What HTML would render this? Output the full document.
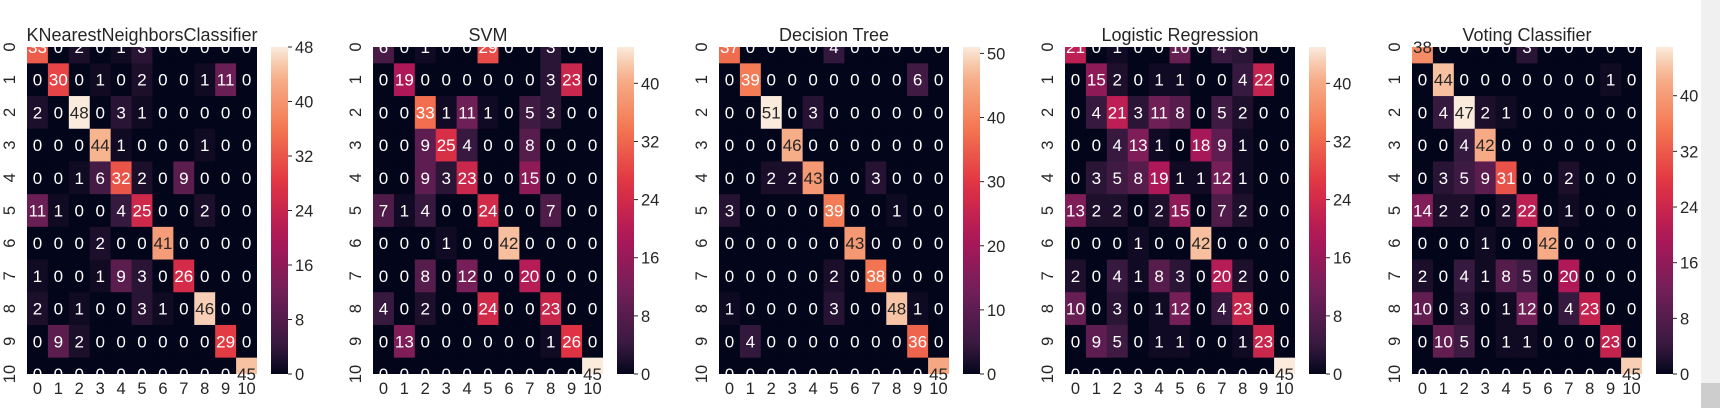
<!DOCTYPE html>
<html><head><meta charset="utf-8">
<style>
html,body{margin:0;padding:0;background:#fff;width:1720px;height:408px;overflow:hidden;}
svg{display:block;font-family:"Liberation Sans",Arial,sans-serif;}
</style></head>
<body>
<svg id="chart" width="1720" height="408"></svg>
<script>
const categories = ["0","1","2","3","4","5","6","7","8","9","10"];
const titles = ["KNearestNeighborsClassifier","SVM","Decision Tree","Logistic Regression","Voting Classifier"];
const vmaxes = [48, 45, 51, 45, 47];
const cbarTicks0 = [0,8,16,24,32,40,48];
const cbarTicks1 = [0,8,16,24,32,40];
const cbarTicks2 = [0,10,20,30,40,50];
const cbarTicks3 = [0,8,16,24,32,40];
const cbarTicks4 = [0,8,16,24,32,40];
const knnMatrix = [
[33,0,2,0,1,3,0,0,0,0,0],
[0,30,0,1,0,2,0,0,1,11,0],
[2,0,48,0,3,1,0,0,0,0,0],
[0,0,0,44,1,0,0,0,1,0,0],
[0,0,1,6,32,2,0,9,0,0,0],
[11,1,0,0,4,25,0,0,2,0,0],
[0,0,0,2,0,0,41,0,0,0,0],
[1,0,0,1,9,3,0,26,0,0,0],
[2,0,1,0,0,3,1,0,46,0,0],
[0,9,2,0,0,0,0,0,0,29,0],
[0,0,0,0,0,0,0,0,0,0,45]];
const svmMatrix = [
[6,0,1,0,0,29,0,0,3,0,0],
[0,19,0,0,0,0,0,0,3,23,0],
[0,0,33,1,11,1,0,5,3,0,0],
[0,0,9,25,4,0,0,8,0,0,0],
[0,0,9,3,23,0,0,15,0,0,0],
[7,1,4,0,0,24,0,0,7,0,0],
[0,0,0,1,0,0,42,0,0,0,0],
[0,0,8,0,12,0,0,20,0,0,0],
[4,0,2,0,0,24,0,0,23,0,0],
[0,13,0,0,0,0,0,0,1,26,0],
[0,0,0,0,0,0,0,0,0,0,45]];
const dtMatrix = [
[37,0,0,0,0,4,0,0,0,0,0],
[0,39,0,0,0,0,0,0,0,6,0],
[0,0,51,0,3,0,0,0,0,0,0],
[0,0,0,46,0,0,0,0,0,0,0],
[0,0,2,2,43,0,0,3,0,0,0],
[3,0,0,0,0,39,0,0,1,0,0],
[0,0,0,0,0,0,43,0,0,0,0],
[0,0,0,0,0,2,0,38,0,0,0],
[1,0,0,0,0,3,0,0,48,1,0],
[0,4,0,0,0,0,0,0,0,36,0],
[0,0,0,0,0,0,0,0,0,0,45]];
const lrMatrix = [
[21,0,1,0,0,10,0,4,3,0,0],
[0,15,2,0,1,1,0,0,4,22,0],
[0,4,21,3,11,8,0,5,2,0,0],
[0,0,4,13,1,0,18,9,1,0,0],
[0,3,5,8,19,1,1,12,1,0,0],
[13,2,2,0,2,15,0,7,2,0,0],
[0,0,0,1,0,0,42,0,0,0,0],
[2,0,4,1,8,3,0,20,2,0,0],
[10,0,3,0,1,12,0,4,23,0,0],
[0,9,5,0,1,1,0,0,1,23,0],
[0,0,0,0,0,0,0,0,0,0,45]];
const votingMatrix = [
[38,0,0,0,0,3,0,0,0,0,0],
[0,44,0,0,0,0,0,0,0,1,0],
[0,4,47,2,1,0,0,0,0,0,0],
[0,0,4,42,0,0,0,0,0,0,0],
[0,3,5,9,31,0,0,2,0,0,0],
[14,2,2,0,2,22,0,1,0,0,0],
[0,0,0,1,0,0,42,0,0,0,0],
[2,0,4,1,8,5,0,20,0,0,0],
[10,0,3,0,1,12,0,4,23,0,0],
[0,10,5,0,1,1,0,0,0,23,0],
[0,0,0,0,0,0,0,0,0,0,45]];

const matrices = [knnMatrix, svmMatrix, dtMatrix, lrMatrix, votingMatrix];
const tickSets = [cbarTicks0, cbarTicks1, cbarTicks2, cbarTicks3, cbarTicks4];

const NS = "http://www.w3.org/2000/svg";
const svg = document.getElementById("chart");
const TOP = 47, BOTTOM = 374, HM_W = 230, CB_W = 17;
const PANEL_X = [27, 373, 719, 1065, 1412];
const n = categories.length;
const rowH = (BOTTOM - TOP) / (n - 1);
const colW = HM_W / n;

const stops = [[0,"#03051a"],[0.083,"#35193e"],[0.25,"#701f57"],[0.417,"#ad1759"],[0.583,"#e13342"],[0.75,"#f37651"],[0.917,"#f6b48f"],[1,"#faebdd"]];
function hex2rgb(h){return [parseInt(h.substr(1,2),16),parseInt(h.substr(3,2),16),parseInt(h.substr(5,2),16)];}
function rocket(t){
  t=Math.max(0,Math.min(1,t));
  for(let i=0;i<stops.length-1;i++){
    if(t<=stops[i+1][0]){
      const a=hex2rgb(stops[i][1]),b=hex2rgb(stops[i+1][1]);
      const f=(t-stops[i][0])/(stops[i+1][0]-stops[i][0]);
      return [0,1,2].map(k=>Math.round(a[k]+(b[k]-a[k])*f));
    }
  }
  return hex2rgb(stops[stops.length-1][1]);
}
function lum(c){
  const l=c.map(v=>{v/=255;return v<=0.03928?v/12.92:Math.pow((v+0.055)/1.055,2.4);});
  return 0.2126*l[0]+0.7152*l[1]+0.0722*l[2];
}
function el(tag,attrs){const e=document.createElementNS(NS,tag);for(const k in attrs)e.setAttribute(k,attrs[k]);return e;}

const defs = el("defs",{});
svg.appendChild(defs);
const grad = el("linearGradient",{id:"rocketGrad",x1:"0",y1:"1",x2:"0",y2:"0"});
for(let i=0;i<=20;i++){const c=rocket(i/20);grad.appendChild(el("stop",{offset:(i/20).toString(),"stop-color":`rgb(${c[0]},${c[1]},${c[2]})`}));}
defs.appendChild(grad);

matrices.forEach((mat,p)=>{
  const x0 = PANEL_X[p], vmax = vmaxes[p];
  const xS = j => x0 + colW*(j+0.5);
  const yS = i => TOP + rowH*i;
  const cS = v => BOTTOM - (v/vmax)*(BOTTOM-TOP);
  const g = el("g",{});
  
  
  svg.appendChild(g);
  const clip = el("clipPath",{id:"clip"+p});
  clip.appendChild(el("rect",{x:x0,y:TOP,width:HM_W,height:BOTTOM-TOP}));
  defs.appendChild(clip);
  const cells = el("g",{"clip-path":`url(#clip${p})`});
  g.appendChild(cells);
  for(let i=0;i<n;i++)for(let j=0;j<n;j++){
    const v=mat[i][j], c=rocket(v/vmax);
    const r=el("rect",{x:(x0+colW*j).toFixed(2),y:(yS(i)-rowH/2).toFixed(2),width:(colW+0.4).toFixed(2),height:(rowH+0.4).toFixed(2),fill:`rgb(${c[0]},${c[1]},${c[2]})`});
    
    
    cells.appendChild(r);
  }
  for(let i=0;i<n;i++)for(let j=0;j<n;j++){
    const v=mat[i][j], c=rocket(v/vmax);
    const dark = (v/vmax > 0.79) || lum(c) > 0.408;
    const t=el("text",{x:xS(j).toFixed(2),y:(yS(i)+6).toFixed(2),"text-anchor":"middle","font-size":"17",fill:dark?"#262626":"#ffffff"});
    t.textContent=v;
    
    
    g.appendChild(t);
  }
  categories.forEach((c,j)=>{
    const t=el("text",{x:xS(j).toFixed(2),y:"394","text-anchor":"middle","font-size":"16.5",fill:"#262626"});
    t.textContent=c;
    
    
    g.appendChild(t);
  });
  categories.forEach((c,i)=>{
    const cx=x0-17, cy=yS(i);
    const t=el("text",{x:cx,y:cy,"text-anchor":"middle","dominant-baseline":"central","font-size":"16.5",fill:"#262626",transform:`rotate(-90 ${cx} ${cy.toFixed(2)})`});
    t.textContent=c;
    
    
    g.appendChild(t);
  });
  const title=el("text",{x:x0+HM_W/2,y:"41","text-anchor":"middle","font-size":"18",fill:"#262626"});
  title.textContent=titles[p];
  
  
  g.appendChild(title);
  const cbx = x0+HM_W+14;
  const cb=el("rect",{x:cbx,y:TOP,width:CB_W,height:BOTTOM-TOP,fill:"url(#rocketGrad)"});
  
  
  g.appendChild(cb);
  tickSets[p].forEach(tv=>{
    const y=cS(tv);
    const tk=el("line",{x1:cbx+CB_W,x2:cbx+CB_W+4,y1:y,y2:y,stroke:"#262626","stroke-width":"1"});
    
    
    g.appendChild(tk);
    const t=el("text",{x:cbx+CB_W+7,y:(y+6).toFixed(2),"font-size":"16.5",fill:"#262626"});
    t.textContent=tv;
    
    
    g.appendChild(t);
  });
});

const sb=el("rect",{x:1701,y:0,width:19,height:408,fill:"#f0f0f0"});


svg.appendChild(sb);
const th=el("rect",{x:1701,y:383,width:19,height:25,fill:"#cdcdcd"});


svg.appendChild(th);
</script>
</body></html>
